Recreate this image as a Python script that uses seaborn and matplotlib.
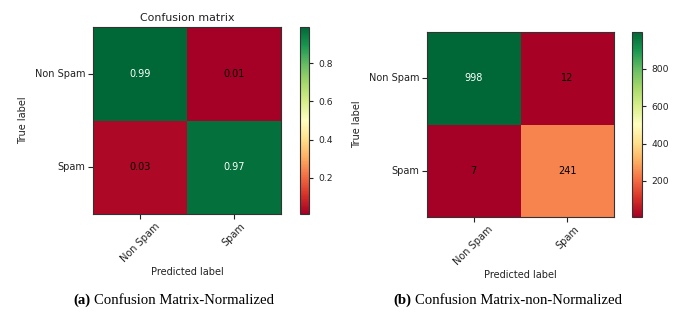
import matplotlib
matplotlib.use("Agg")
import matplotlib.pyplot as plt
import seaborn as sns
import numpy as np
import pandas as pd

classes = ["Non Spam", "Spam"]
norm_row_nonspam = [0.988, 0.012]
norm_row_spam = [0.028, 0.972]
count_row_nonspam = [998, 12]
count_row_spam = [7, 241]

norm_df = pd.DataFrame([norm_row_nonspam, norm_row_spam], index=classes, columns=classes)
count_df = pd.DataFrame([count_row_nonspam, count_row_spam], index=classes, columns=classes)

plt.rcParams['font.family'] = ['DejaVu Sans']
plt.rcParams['font.size'] = 7

W, H = 697, 314
fig = plt.figure(figsize=(W / 100, H / 100), dpi=100)


def px_rect(x0, y0, x1, y1):
    return [x0 / W, 1 - y1 / H, (x1 - x0) / W, (y1 - y0) / H]


def draw(df, fmt, hm_rect, cb_rect, title=None):
    ax = fig.add_axes(px_rect(*hm_rect))
    cax = fig.add_axes(px_rect(*cb_rect))
    sns.heatmap(df, ax=ax, cbar_ax=cax, cmap="RdYlGn", annot=True, fmt=fmt,
                annot_kws={"fontsize": 7}, square=False)
    thresh = df.values.max() / 2.0
    vals = df.values.flatten()
    for t, v in zip(ax.texts, vals):
        t.set_color("white" if v > thresh else "black")
    for s in ax.spines.values():
        s.set_visible(True)
        s.set_linewidth(0.8)
        s.set_color("#333333")
    ax.tick_params(axis="both", length=3.5, width=0.8, labelsize=7, colors="#222222", pad=2)
    plt.setp(ax.get_yticklabels(), rotation=0, va="center")
    plt.setp(ax.get_xticklabels(), rotation=45, ha="center")
    ax.set_xlabel("Predicted label", fontsize=7, color="#222222", labelpad=2)
    ax.set_ylabel("True label", fontsize=7, color="#222222", labelpad=5)
    if title:
        ax.set_title(title, fontsize=7.9, color="#222222", pad=4)
    cb = ax.collections[0].colorbar
    cb.outline.set_linewidth(0.8)
    cb.outline.set_edgecolor("#333333")
    cax.tick_params(labelsize=6.6, length=3, width=0.8, colors="#222222")
    return ax


draw(norm_df, ".2f", (93, 27, 281, 214), (300, 27, 309, 214), title="Confusion matrix")
draw(count_df, "d", (427, 32, 614, 217), (632, 32, 642, 217))

cap_font = ["Liberation Serif", "DejaVu Serif"]
cy = 1 - 300 / H
fs = 10.6
fig.text(73 / W, cy, "(a)", family=cap_font, fontweight="bold", fontsize=fs, va="center", ha="left")
fig.text(94 / W, cy, "Confusion Matrix-Normalized", family=cap_font, fontsize=fs, va="center", ha="left")
fig.text(393 / W, cy, "(b)", family=cap_font, fontweight="bold", fontsize=fs, va="center", ha="left")
fig.text(415 / W, cy, "Confusion Matrix-non-Normalized", family=cap_font, fontsize=fs, va="center", ha="left")

fig.savefig("out.png", dpi=100, facecolor="white")
